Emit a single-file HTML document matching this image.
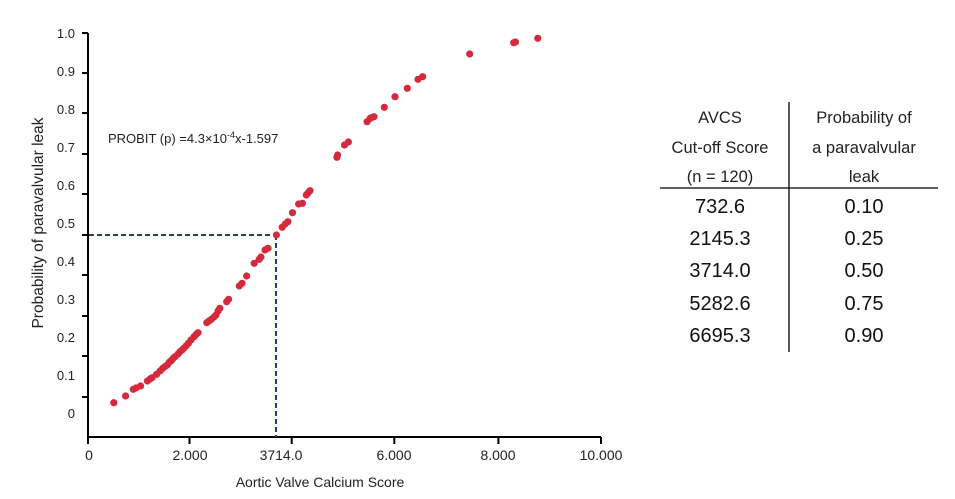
<!DOCTYPE html>
<html><head><meta charset="utf-8"><style>
html,body{margin:0;padding:0;background:#fff;}
svg{display:block;}
</style></head><body>
<svg width="955" height="499" viewBox="0 0 955 499" xmlns="http://www.w3.org/2000/svg" font-family="Liberation Sans, Arial, sans-serif">
<g stroke="#000" stroke-width="2" fill="none">
<line x1="88" y1="33" x2="88" y2="437"/>
<line x1="87" y1="437" x2="601" y2="437"/>
<path d="M82 33H88M82 73H88M82 113H88M82 154H88M82 194H88M82 235H88M82 275H88M82 316H88M82 356H88M82 397H88"/>
<path d="M88 437V444M189.5 437V444M291.7 437V444M394.3 437V444M498.4 437V444M601 437V444"/>
</g>
<g font-size="13" fill="#222" text-anchor="end">
<text x="75" y="38">1.0</text><text x="75" y="76">0.9</text><text x="75" y="114">0.8</text>
<text x="75" y="152">0.7</text><text x="75" y="190">0.6</text><text x="75" y="228">0.5</text>
<text x="75" y="266">0.4</text><text x="75" y="304">0.3</text><text x="75" y="342">0.2</text>
<text x="75" y="380">0.1</text><text x="75" y="418">0</text>
</g>
<g font-size="14" fill="#222" text-anchor="middle">
<text x="89" y="460">0</text><text x="190" y="460">2.000</text><text x="281" y="460">3714.0</text>
<text x="394" y="460">6.000</text><text x="498" y="460">8.000</text><text x="601" y="460">10.000</text>
<text x="320" y="487">Aortic Valve Calcium Score</text>
<text transform="translate(43,223) rotate(-90)" font-size="15.5">Probability of paravalvular leak</text>
</g>
<text x="108" y="143" font-size="13" fill="#222">PROBIT (p) =4.3×10<tspan dy="-5" font-size="9">-4</tspan><tspan dy="5">x-1.597</tspan></text>
<g stroke="#1f3f73" stroke-width="2" stroke-dasharray="5,3" fill="none">
<line x1="89" y1="235" x2="276" y2="235"/>
<line x1="276" y1="235" x2="276" y2="437"/>
</g>
<g fill="#d42a3b">
<circle cx="113.8" cy="402.7" r="3.6"/><circle cx="125.6" cy="396" r="3.6"/><circle cx="133.3" cy="389.3" r="3.6"/>
<circle cx="136" cy="388" r="3.6"/><circle cx="140.6" cy="386" r="3.6"/><circle cx="147.4" cy="381" r="3.6"/>
<circle cx="150" cy="379" r="3.6"/><circle cx="152" cy="377.7" r="3.6"/><circle cx="156.6" cy="374.3" r="3.6"/>
<circle cx="160" cy="371" r="3.6"/><circle cx="162.7" cy="368.3" r="3.6"/><circle cx="165" cy="366.5" r="3.6"/>
<circle cx="167.3" cy="365" r="3.6"/><circle cx="169" cy="362.5" r="3.6"/><circle cx="171.2" cy="360.7" r="3.6"/>
<circle cx="173" cy="358.5" r="3.6"/><circle cx="175" cy="356.7" r="3.6"/><circle cx="178" cy="354" r="3.6"/>
<circle cx="180" cy="351.7" r="3.6"/><circle cx="182" cy="350" r="3.6"/><circle cx="183.8" cy="348.3" r="3.6"/>
<circle cx="186" cy="346" r="3.6"/><circle cx="188.4" cy="343.3" r="3.6"/><circle cx="191" cy="340" r="3.6"/>
<circle cx="194.1" cy="336.7" r="3.6"/><circle cx="196" cy="334.5" r="3.6"/><circle cx="198" cy="332.7" r="3.6"/>
<circle cx="206.8" cy="322.7" r="3.6"/><circle cx="209" cy="321" r="3.6"/><circle cx="211.4" cy="319.3" r="3.6"/>
<circle cx="214" cy="317" r="3.6"/><circle cx="216" cy="315" r="3.6"/><circle cx="218" cy="311" r="3.6"/>
<circle cx="219.8" cy="308.3" r="3.6"/><circle cx="226.7" cy="301.7" r="3.6"/><circle cx="228.6" cy="299.3" r="3.6"/>
<circle cx="239.3" cy="286" r="3.6"/><circle cx="242" cy="283.3" r="3.6"/><circle cx="246.6" cy="276" r="3.6"/>
<circle cx="254.2" cy="263.3" r="3.6"/><circle cx="259.2" cy="259.3" r="3.6"/><circle cx="261" cy="257" r="3.6"/>
<circle cx="265" cy="250" r="3.6"/><circle cx="268" cy="248.3" r="3.6"/><circle cx="276.4" cy="235" r="3.6"/>
<circle cx="282.2" cy="227.3" r="3.6"/><circle cx="285.2" cy="224" r="3.6"/><circle cx="287.9" cy="221.7" r="3.6"/>
<circle cx="292.5" cy="212.7" r="3.6"/><circle cx="298.6" cy="204" r="3.6"/><circle cx="302.4" cy="203.3" r="3.6"/>
<circle cx="306.3" cy="195" r="3.6"/><circle cx="308" cy="193" r="3.6"/><circle cx="310" cy="190.7" r="3.6"/>
<circle cx="336.9" cy="157.3" r="3.6"/><circle cx="337.6" cy="155" r="3.6"/><circle cx="344.5" cy="145" r="3.6"/>
<circle cx="348.4" cy="142" r="3.6"/><circle cx="367.1" cy="121.7" r="3.6"/><circle cx="370.2" cy="118.3" r="3.6"/>
<circle cx="372" cy="117.5" r="3.6"/><circle cx="374" cy="116.7" r="3.6"/><circle cx="384.3" cy="107.3" r="3.6"/>
<circle cx="395" cy="96.7" r="3.6"/><circle cx="407.3" cy="88.3" r="3.6"/><circle cx="418" cy="79.3" r="3.6"/>
<circle cx="422.6" cy="76.7" r="3.6"/><circle cx="469.7" cy="54" r="3.6"/><circle cx="513.7" cy="42.7" r="3.6"/>
<circle cx="515.5" cy="42" r="3.6"/><circle cx="537.8" cy="38.3" r="3.6"/>
</g>
<g stroke="#000" stroke-width="1.3">
<line x1="789" y1="102" x2="789" y2="352"/>
<line x1="660" y1="188" x2="938" y2="188"/>
</g>
<g font-size="16.5" fill="#222" text-anchor="middle">
<text x="720" y="123">AVCS</text><text x="720" y="153">Cut-off Score</text><text x="720" y="182">(n = 120)</text>
<text x="864" y="123">Probability of</text><text x="864" y="153">a paravalvular</text><text x="864" y="182">leak</text>
</g>
<g font-size="20" fill="#111" text-anchor="middle">
<text x="720" y="213">732.6</text><text x="864" y="213">0.10</text>
<text x="720" y="245">2145.3</text><text x="864" y="245">0.25</text>
<text x="720" y="277">3714.0</text><text x="864" y="277">0.50</text>
<text x="720" y="310">5282.6</text><text x="864" y="310">0.75</text>
<text x="720" y="342">6695.3</text><text x="864" y="342">0.90</text>
</g>
</svg>
</body></html>
